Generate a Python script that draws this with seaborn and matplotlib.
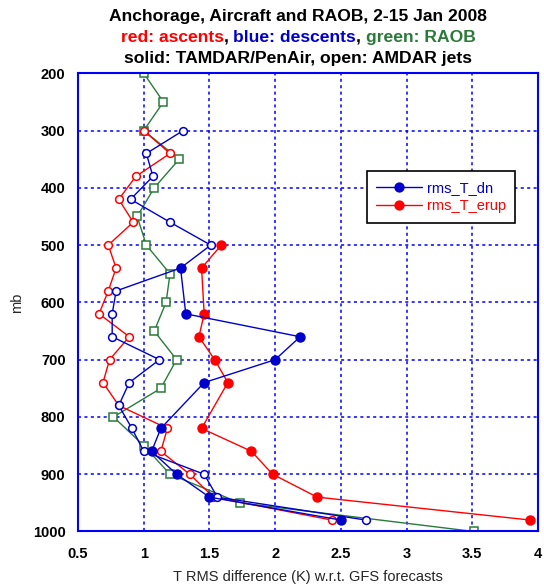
import matplotlib
matplotlib.use("Agg")
import matplotlib.pyplot as plt
import pandas as pd
import seaborn as sns
from matplotlib.lines import Line2D

sns.set_theme(style="white")
plt.rcParams['font.family'] = ['Liberation Sans', 'DejaVu Sans']

# RAOB levels (mb) and RMS T differences (K)
raob_levels = [200, 250, 300, 350, 400, 450, 500, 550, 600, 650,
               700, 750, 800, 850, 900, 950, 1000]
raob_rms = [1.00, 1.15, 1.00, 1.27, 1.08, 0.95, 1.02, 1.20, 1.17, 1.08,
            1.25, 1.13, 0.77, 1.00, 1.20, 1.73, 3.51]

# AMDAR jets (open symbols)
amdar_levels = [300, 340, 380, 420, 460, 500, 540, 580, 620, 660,
                700, 740, 780, 820, 860, 900, 940, 980]
amdar_up_rms = [1.00, 1.20, 0.94, 0.81, 0.92, 0.73, 0.79, 0.73, 0.66, 0.89,
                0.74, 0.69, 0.81, 1.18, 1.13, 1.35, 1.53, 2.43]
amdar_dn_rms = [1.30, 1.02, 1.07, 0.90, 1.20, 1.51, 1.28, 0.79, 0.76, 0.76,
                1.12, 0.89, 0.81, 0.91, 1.00, 1.46, 1.56, 2.69]

# TAMDAR / PenAir (solid symbols)
tamdar_up_levels = [500, 540, 620, 660, 700, 740, 820, 860, 900, 940, 980]
tamdar_up_rms = [1.59, 1.44, 1.46, 1.42, 1.54, 1.64, 1.44, 1.82, 1.98, 2.32, 3.94]
tamdar_dn_levels = [540, 620, 660, 700, 740, 820, 860, 900, 940, 980]
tamdar_dn_rms = [1.28, 1.32, 2.19, 2.00, 1.46, 1.13, 1.06, 1.25, 1.50, 2.50]

x_ticks = [0.5, 1, 1.5, 2, 2.5, 3, 3.5, 4]
x_tick_labels = ["0.5", "1", "1.5", "2", "2.5", "3", "3.5", "4"]
y_ticks = [200, 300, 400, 500, 600, 700, 800, 900, 1000]

RED = "#ff0000"
BLUE = "#0000cc"
GREEN = "#2a7a3a"

fig = plt.figure(figsize=(5.44, 5.84), dpi=100)
ax = fig.add_axes([0.1434, 0.0899, 0.8456, 0.7846])


def draw(levels, rms, color, marker, ms, filled, label=None):
    df = pd.DataFrame({"rms": rms, "p": levels})
    kw = dict(markerfacecolor=color if filled else "white",
              markeredgecolor=color, markeredgewidth=1.1)
    sns.lineplot(data=df, x="rms", y="p", sort=False, estimator=None,
                 color=color, marker=marker, markersize=ms, linewidth=1.0,
                 ax=ax, label=label, legend=False, **kw)


draw(raob_levels, raob_rms, GREEN, "s", 5.4, False)
draw(amdar_levels, amdar_up_rms, RED, "o", 5.6, False)
draw(amdar_levels, amdar_dn_rms, BLUE, "o", 5.6, False)
draw(tamdar_up_levels, tamdar_up_rms, RED, "o", 6.4, True, "rms_T_erup")
draw(tamdar_dn_levels, tamdar_dn_rms, BLUE, "o", 6.4, True, "rms_T_dn")

ax.set_xlim(0.5, 4)
ax.set_ylim(1000, 200)
ax.set_xticks(x_ticks)
ax.set_xticklabels(x_tick_labels)
ax.set_yticks(y_ticks)
ax.grid(True, color="#0000ff", linestyle=(0, (2, 2.2)), linewidth=1.1)
for s in ax.spines.values():
    s.set_color("#0000ff")
    s.set_linewidth(1.5)
ax.tick_params(axis="both", direction="in", length=5, width=1.2,
               color="#0000ff", labelsize=10.5, labelcolor="black")
ax.tick_params(axis="x", pad=11)
ax.tick_params(axis="y", pad=9)
for lab in ax.get_xticklabels() + ax.get_yticklabels():
    lab.set_fontweight("bold")
ax.set_xlabel("T RMS difference (K) w.r.t. GFS forecasts", fontsize=10.5,
              labelpad=7)
ax.set_ylabel("mb", fontsize=10.5, labelpad=6)

handles = [Line2D([], [], color=BLUE, marker="o", markersize=6.4,
                  markerfacecolor=BLUE, linewidth=1.0),
           Line2D([], [], color=RED, marker="o", markersize=6.4,
                  markerfacecolor=RED, linewidth=1.0)]
leg = ax.legend(handles, ["rms_T_dn", "rms_T_erup"], loc="upper left",
                bbox_to_anchor=(0.628, 0.786), borderaxespad=0,
                fancybox=False, framealpha=1, edgecolor="black",
                fontsize=10.5, handlelength=3.1, handletextpad=0.35,
                borderpad=0.65, labelspacing=0.3)
leg.get_frame().set_linewidth(1.2)
for txt, c in zip(leg.get_texts(), [BLUE, RED]):
    txt.set_color(c)

# three-line header; the middle line is colour coded
title_kw = dict(fontsize=12.6, fontweight="bold", ha="center", va="center")
cx = 0.548
fig.text(cx, 0.971, "Anchorage, Aircraft and RAOB, 2-15 Jan 2008",
         color="black", **title_kw)
fig.text(cx, 0.899, "solid: TAMDAR/PenAir, open: AMDAR jets",
         color="black", **title_kw)

pieces = [("red: ascents", RED), (", ", "black"), ("blue: descents", BLUE),
          (", ", "black"), ("green: RAOB", GREEN)]
fig.canvas.draw()
renderer = fig.canvas.get_renderer()
texts = []
widths = []
for s, c in pieces:
    t = fig.text(0, 0.935, s, color=c, fontsize=12.6, fontweight="bold",
                 ha="left", va="center")
    w = t.get_window_extent(renderer=renderer).width / fig.bbox.width
    texts.append(t)
    widths.append(w)
x0 = cx - sum(widths) / 2
for t, w in zip(texts, widths):
    t.set_x(x0)
    x0 += w

fig.savefig("out.png", dpi=100)
